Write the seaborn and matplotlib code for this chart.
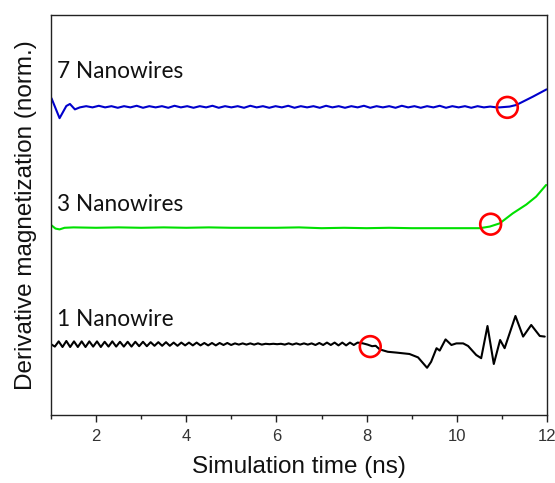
import numpy as np
import pandas as pd
import matplotlib
matplotlib.use("Agg")
import matplotlib.pyplot as plt
import seaborn as sns

# ---------------- data ----------------
# 1 Nanowire (black): oscillating part sampled on a regular time grid
black_osc_t = np.linspace(1.0, 7.80, 81)
black_osc_v = [17.7, 17.1, 18.4, 17.0, 18.5, 17.0, 18.4, 17.0, 18.4, 17.0,
               18.4, 17.1, 18.4, 17.0, 18.3, 17.1, 18.4, 17.1, 18.3, 17.1,
               18.3, 17.1, 18.3, 17.2, 18.3, 17.2, 18.2, 17.3, 18.2, 17.3,
               18.2, 17.3, 18.1, 17.3, 18.1, 17.4, 18.1, 17.4, 18.1, 17.4,
               18.0, 17.4, 18.0, 17.4, 18.0, 17.5, 18.0, 17.5, 17.9, 17.6,
               17.9, 17.6, 17.9, 17.6, 17.9, 17.6, 17.8, 17.7, 17.8, 17.7,
               17.8, 17.6, 17.9, 17.6, 17.9, 17.6, 17.9, 17.6, 17.9, 17.5,
               18.0, 17.5, 18.1, 17.5, 18.1, 17.4, 18.1, 17.4, 18.1, 17.5, 18.1]
black_t2 = [7.92, 8.02, 8.12, 8.20, 8.29, 8.47, 8.66, 8.95, 9.14, 9.34, 9.43,
            9.55, 9.62, 9.75, 9.88, 9.99, 10.14, 10.25, 10.43, 10.54, 10.68,
            10.82, 10.96, 11.06, 11.30, 11.47, 11.65, 11.84, 11.95]
black_v2 = [17.9, 17.6, 17.2, 17.3, 16.4, 15.8, 15.6, 15.25, 14.4, 11.8, 13.3,
            16.7, 16.1, 18.9, 17.5, 17.9, 17.9, 17.25, 15.0, 14.2, 22.25,
            12.75, 18.75, 16.7, 24.75, 19.6, 22.5, 19.75, 19.6]

# 3 Nanowires (green)
green_t = [1.00, 1.10, 1.19, 1.30, 1.50, 2.00, 2.50, 3.00, 3.50, 4.00, 4.50,
           5.00, 5.50, 6.00, 6.50, 7.00, 7.50, 8.00, 8.50, 9.00, 9.50, 10.00,
           10.51, 10.73, 10.95, 11.24, 11.54, 11.65, 11.76, 11.98]
green_v = [47.5, 46.6, 46.4, 46.8, 46.9, 46.8, 46.9, 46.8, 46.9, 46.8, 46.9,
           46.8, 46.8, 46.8, 46.9, 46.7, 46.8, 46.7, 46.8, 46.7, 46.7, 46.7,
           46.7, 47.1, 47.9, 50.4, 52.6, 53.6, 54.6, 57.5]

# 7 Nanowires (blue)
blue_t1 = [1.01, 1.19, 1.34, 1.42, 1.53]
blue_v1 = [79.2, 74.2, 77.25, 77.75, 76.4]
blue_osc_t = np.linspace(1.64, 10.88, 67)
blue_osc_v = [76.9, 77.2, 76.9, 77.3, 76.9, 77.2, 76.8, 77.2, 76.9, 77.3,
              76.8, 77.2, 76.9, 77.2, 76.8, 77.3, 76.9, 77.2, 76.8, 77.2,
              76.9, 77.3, 76.8, 77.2, 76.9, 77.2, 76.8, 77.3, 76.9, 77.2,
              76.8, 77.2, 76.9, 77.3, 76.8, 77.2, 76.9, 77.2, 76.8, 77.3,
              76.9, 77.2, 76.8, 77.2, 76.9, 77.3, 76.8, 77.2, 76.9, 77.2,
              76.8, 77.3, 76.9, 77.2, 76.8, 77.2, 76.9, 77.3, 76.8, 77.2,
              76.9, 77.2, 76.8, 77.2, 76.9, 77.1, 76.9]
blue_t2 = [10.95, 11.17, 11.32, 11.39, 11.69, 11.99]
blue_v2 = [76.9, 77.1, 77.5, 77.9, 79.6, 81.4]

# onset markers (red circles)
circle_t = [8.08, 10.75, 11.12]
circle_v = [17.1, 47.7, 76.9]

labels = ["1 Nanowire", "3 Nanowires", "7 Nanowires"]
label_t = [1.13, 1.13, 1.13]
label_v = [23.75, 52.5, 85.75]

x_label = "Simulation time (ns)"
y_label = "Derivative magnetization (norm.)"
x_ticks = [2, 4, 6, 8, 10, 12]

# ---------------- build tables ----------------
black = pd.DataFrame({"t": list(black_osc_t) + black_t2,
                      "v": black_osc_v + black_v2})
green = pd.DataFrame({"t": green_t, "v": green_v})
blue = pd.DataFrame({"t": blue_t1 + list(blue_osc_t) + blue_t2,
                     "v": blue_v1 + blue_osc_v + blue_v2})
circles = pd.DataFrame({"t": circle_t, "v": circle_v})

# ---------------- plot ----------------
sns.set_theme(style="white")
plt.rcParams["font.family"] = ["Liberation Sans", "DejaVu Sans"]

fig = plt.figure(figsize=(5.55, 4.83), dpi=100)
ax = fig.add_axes([0.0919, 0.1408, 0.8937, 0.8282])

lw = 1.5
sns.lineplot(data=black, x="t", y="v", ax=ax, color="#000000", lw=lw,
             estimator=None, sort=False)
sns.lineplot(data=green, x="t", y="v", ax=ax, color="#00e000", lw=lw,
             estimator=None, sort=False)
sns.lineplot(data=blue, x="t", y="v", ax=ax, color="#0000cc", lw=lw,
             estimator=None, sort=False)
sns.scatterplot(data=circles, x="t", y="v", ax=ax, s=225, marker="o",
                facecolor="none", edgecolor="#ff0000", linewidth=1.9, zorder=5)

for txt, tx, ty in zip(labels, label_t, label_v):
    ax.text(tx, ty, txt, fontsize=16.3, family=["Lato", "DejaVu Sans"],
            va="center", ha="left", color="#111111")

ax.set_xlim(1, 12)
ax.set_ylim(0, 100)
ax.set_xticks(x_ticks)
ax.set_xticks([1, 3, 5, 7, 9, 11], minor=True)
ax.set_yticks([])
ax.tick_params(axis="x", which="major", direction="out", length=5, width=1,
               color="#222222", labelsize=12, labelcolor="#333333", pad=5,
               bottom=True)
ax.tick_params(axis="x", which="minor", direction="out", length=3, width=1,
               color="#222222", bottom=True)
for sp in ax.spines.values():
    sp.set_visible(True)
    sp.set_color("#222222")
    sp.set_linewidth(1.0)

ax.set_xlabel(x_label, fontsize=17.5, color="#111111", labelpad=9)
ax.set_ylabel(y_label, fontsize=17.5, color="#111111", labelpad=10)

fig.savefig("out.png", dpi=100)
